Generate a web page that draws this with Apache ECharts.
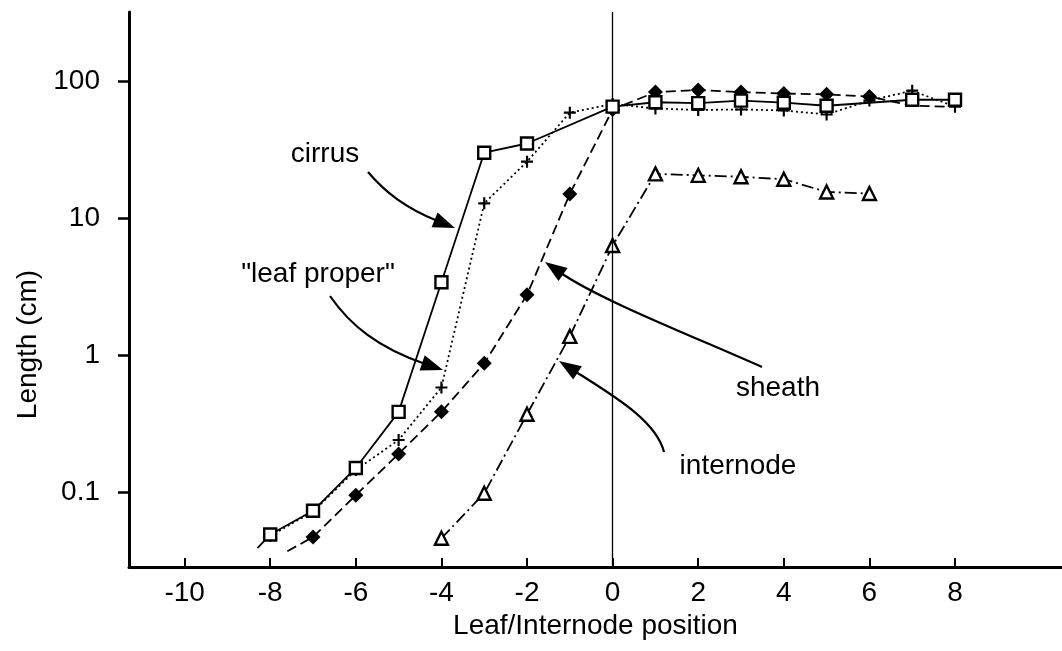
<!DOCTYPE html>
<html>
<head>
<meta charset="utf-8">
<script src="https://cdn.jsdelivr.net/npm/echarts@6/dist/echarts.min.js"></script>
<style>
html,body{margin:0;padding:0;background:#fff;}
#chart{width:1062px;height:651px;}
</style>
</head>
<body>
<div id="chart"></div>
<script>
// ---- data ----
const xTicks = [-10, -8, -6, -4, -2, 0, 2, 4, 6, 8];
const yTicks = [0.1, 1, 10, 100];

const cirrusX = [-8, -7, -6, -5, -4, -3, -2, 0, 1, 2, 3, 4, 5, 7, 8];
const cirrusY = [0.049, 0.073, 0.15, 0.385, 3.4, 30, 35, 65, 70, 69, 72, 69.5, 66, 73, 73];
const cirrusLeadX = [-8.3];
const cirrusLeadY = [0.039];

const leafX = [-8, -7, -6, -5, -4, -3, -2, -1, 0, 1, 2, 3, 4, 5, 6, 7, 8];
const leafY = [0.048, 0.072, 0.145, 0.24, 0.58, 12.8, 25.8, 58.8, 68, 63, 61.5, 62, 61, 57, 72, 85, 65];

const sheathX = [-7, -6, -5, -4, -3, -2, -1, 0, 1, 2, 3, 4, 5, 6];
const sheathY = [0.047, 0.095, 0.19, 0.385, 0.87, 2.75, 15, 62, 83, 86, 83, 81, 80, 77];
const sheathLeadX = [-7.6];
const sheathLeadY = [0.037];
const sheathTailX = [7, 7.8];
const sheathTailY = [66, 65];

const interX = [-4, -3, -2, -1, 0, 1, 2, 3, 4, 5, 6];
const interY = [0.046, 0.098, 0.37, 1.37, 6.3, 21, 20.5, 20, 19.2, 15.5, 15.1];

// ---- build ----
function pts(xs, ys) { return xs.map((x, i) => [x, ys[i]]); }
function bare(xs, ys) { return xs.map((x, i) => ({ value: [x, ys[i]], symbol: 'none' })); }

const plusPath = 'path://M4.1,0H5.9V4.1H10V5.9H5.9V10H4.1V5.9H0V4.1H4.1Z';

const chart = echarts.init(document.getElementById('chart'));
const FONT = '"Liberation Sans", Arial, Helvetica, sans-serif';
const FS = 28;

function lineSeries(name, data, lineType, symbol, size, fill, z) {
  return {
    name, type: 'line', data, z,
    symbol, symbolSize: size, showAllSymbol: true,
    lineStyle: { color: '#000', width: 1.8, type: lineType },
    itemStyle: { color: fill, borderColor: '#000', borderWidth: fill === '#fff' ? 2.4 : 0 },
    emphasis: { disabled: true },
    animation: false
  };
}

const option = {
  backgroundColor: '#fff',
  animation: false,
  grid: { left: 129, right: 0, top: 12, bottom: 84 },
  xAxis: {
    type: 'value', min: -11.3, max: 10.5,
    name: 'Leaf/Internode position', nameLocation: 'middle', nameGap: 44,
    nameTextStyle: { fontFamily: FONT, fontSize: FS, color: '#000' },
    axisLine: { onZero: false, lineStyle: { color: '#000', width: 3 } },
    axisTick: { inside: true, length: 9, customValues: xTicks, lineStyle: { color: '#000', width: 2 } },
    axisLabel: { customValues: xTicks, fontFamily: FONT, fontSize: FS, color: '#000', margin: 12 },
    splitLine: { show: false }
  },
  yAxis: {
    type: 'log', logBase: 10, min: 0.0284, max: 319,
    name: 'Length (cm)', nameLocation: 'middle', nameGap: 86,
    nameTextStyle: { fontFamily: FONT, fontSize: FS, color: '#000', padding: [0, 110, 0, 0] },
    axisLine: { onZero: false, lineStyle: { color: '#000', width: 3 } },
    axisTick: { length: 11, customValues: yTicks, lineStyle: { color: '#000', width: 2.5 } },
    axisLabel: {
      customValues: yTicks, fontFamily: FONT, fontSize: FS, color: '#000', margin: 29,
      formatter: v => String(+(+v).toPrecision(3))
    },
    splitLine: { show: false }
  },
  series: [
    lineSeries('internode', pts(interX, interY), [12, 4, 2, 4], 'triangle', 13, '#fff', 3),
    lineSeries('sheath', bare(sheathLeadX, sheathLeadY).concat(pts(sheathX, sheathY), bare(sheathTailX, sheathTailY)), [10, 5], 'diamond', 15, '#000', 4),
    lineSeries('leaf proper', pts(leafX, leafY), [2, 3], plusPath, 12, '#000', 5),
    Object.assign(lineSeries('cirrus', bare(cirrusLeadX, cirrusLeadY).concat(pts(cirrusX, cirrusY)), 'solid', 'rect', 12, '#fff', 6), {
      markLine: {
        silent: true, symbol: 'none', label: { show: false },
        lineStyle: { color: '#000', width: 1.3, type: 'solid' },
        data: [{ xAxis: 0 }]
      }
    })
  ]
};
chart.setOption(option);

// ---- annotations (labels with curved arrows) ----
function arrow(p0, c1, c2, tip) {
  const dx = tip[0] - c2[0], dy = tip[1] - c2[1];
  const len = Math.hypot(dx, dy), ux = dx / len, uy = dy / len;
  const L = 22, W = 8;
  const bx = tip[0] - ux * L, by = tip[1] - uy * L;
  return [
    { type: 'bezierCurve', shape: { x1: p0[0], y1: p0[1], cpx1: c1[0], cpy1: c1[1], cpx2: c2[0], cpy2: c2[1], x2: bx + ux * 4, y2: by + uy * 4 },
      style: { stroke: '#000', lineWidth: 2.2, fill: null }, silent: true },
    { type: 'polygon', shape: { points: [tip, [bx - uy * W, by + ux * W], [bx + uy * W, by - ux * W]] },
      style: { fill: '#000' }, silent: true }
  ];
}
function label(text, x, y) {
  return { type: 'text', x, y, silent: true,
    style: { text, fontFamily: FONT, fontSize: FS, fill: '#000', align: 'center', verticalAlign: 'middle' } };
}
const g = [].concat(
  label('cirrus', 325, 154),
  arrow([368, 172], [385, 192], [405, 208], [455, 228]),
  label('"leaf proper"', 318, 274),
  arrow([330, 296], [350, 325], [378, 348], [443, 370]),
  label('sheath', 778, 388),
  arrow([762, 367], [690, 335], [600, 300], [545, 262]),
  label('internode', 738, 466),
  arrow([664, 452], [656, 420], [612, 395], [559, 361])
);
chart.setOption({ graphic: g });
</script>
</body>
</html>
